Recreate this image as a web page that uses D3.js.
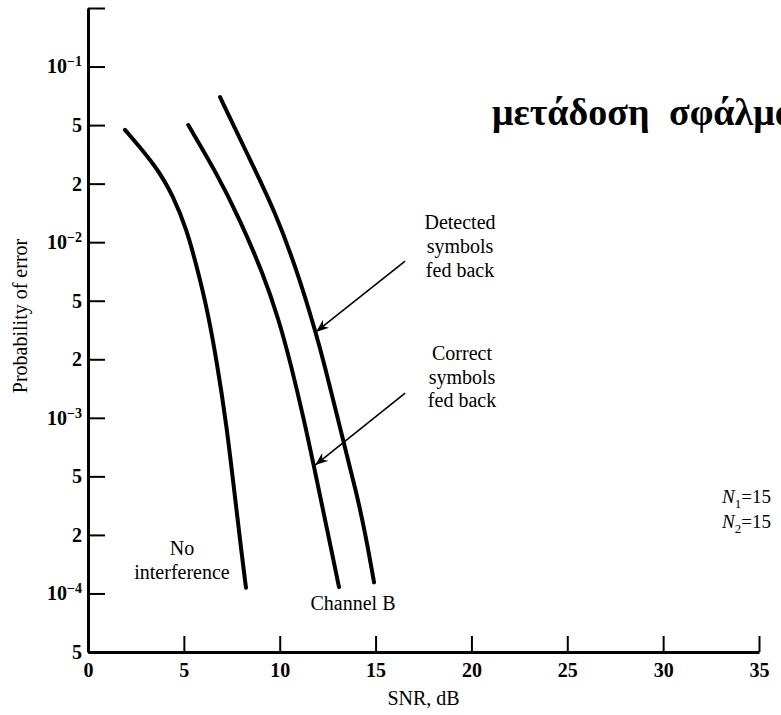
<!DOCTYPE html>
<html>
<head>
<meta charset="utf-8">
<script src="https://cdn.jsdelivr.net/npm/d3@7"></script>
<style>
  body { margin: 0; background: #fff; }
  svg { display: block; font-family: "Liberation Serif", "Times New Roman", serif; }
</style>
</head>
<body>
<svg id="chart" width="781" height="715"></svg>
<script>
// SNR in dB, probability of error
const noIntSnr = [1.93, 3.58, 4.45, 5.15, 5.67, 6.19, 6.71, 7.24, 7.64, 8.03, 8.24];
const noIntPe = [4.64e-2, 2.61e-2, 1.72e-2, 1.16e-2, 7.5e-3, 4.56e-3, 1.98e-3, 9.0e-4, 3.86e-4, 1.56e-4, 1.07e-4];

const correctSnr = [5.23, 6.71, 7.93, 9.13, 9.96, 10.59, 11.27, 11.79, 12.26, 12.73, 13.09];
const correctPe = [5.0e-2, 2.36e-2, 1.30e-2, 6.9e-3, 3.7e-3, 1.87e-3, 9.75e-4, 5.6e-4, 2.95e-4, 1.61e-4, 1.08e-4];

const detectedSnr = [6.89, 8.29, 9.81, 11.06, 11.84, 12.28, 13.30, 14.01, 14.50, 14.92];
const detectedPe = [6.96e-2, 3.21e-2, 1.41e-2, 6.4e-3, 3.16e-3, 1.98e-3, 7.7e-4, 3.84e-4, 1.96e-4, 1.14e-4];

const xTicks = [0, 5, 10, 15, 20, 25, 30, 35];
const yTickVals = [5e-5, 1e-4, 2e-4, 5e-4, 1e-3, 2e-3, 5e-3, 1e-2, 2e-2, 5e-2, 1e-1, 2e-1];
const yTickMant = ['5', '10', '2', '5', '10', '2', '5', '10', '2', '5', '10', ''];
const yTickExp = ['', '\u22124', '', '', '\u22123', '', '', '\u22122', '', '', '\u22121', ''];

// arrows: [snr start, pe start, snr tip, pe tip]
const arrowDetected = [16.54, 8.0e-3, 11.89, 3.07e-3];
const arrowCorrect = [16.54, 1.34e-3, 11.85, 5.72e-4];

const plotLeft = 88, plotRight = 759, plotBottom = 652, plotTop = 8;
const svg = d3.select('#chart');

const x = d3.scaleLinear().domain([0, 35]).range([plotLeft, plotRight]);
const yStep = (plotBottom - plotTop) / (yTickVals.length - 1);
// tick marks are evenly spaced on the original paper, so map log values piecewise
const yLog = d3.scaleLinear()
  .domain(yTickVals.map(Math.log10))
  .range(yTickVals.map((d, i) => plotBottom - i * yStep));
const y = v => yLog(Math.log10(v));

svg.append('defs').append('marker')
  .attr('id', 'head')
  .attr('markerUnits', 'userSpaceOnUse')
  .attr('markerWidth', 14).attr('markerHeight', 10)
  .attr('refX', 13).attr('refY', 5)
  .attr('orient', 'auto')
  .append('path')
  .attr('d', 'M0,0 L13,5 L0,10 L4,5 Z')
  .attr('fill', '#000');

// y axis
const yAxis = svg.append('g')
  .attr('transform', `translate(${plotLeft},0)`)
  .call(d3.axisLeft(yLog)
    .tickValues(yTickVals.map(Math.log10))
    .tickSizeInner(-17)
    .tickSizeOuter(0)
    .tickPadding(6)
    .tickFormat(''));
yAxis.selectAll('.tick text').each(function(d, i) {
  const t = d3.select(this);
  t.append('tspan').text(yTickMant[i]);
  if (yTickExp[i]) t.append('tspan').attr('font-size', 14).attr('dy', '-0.5em').text(yTickExp[i]);
});

// x axis
const xAxis = svg.append('g')
  .attr('transform', `translate(0,${plotBottom})`)
  .call(d3.axisBottom(x)
    .tickValues(xTicks)
    .tickSizeInner(-16)
    .tickSizeOuter(0)
    .tickPadding(11));

[yAxis, xAxis].forEach(g => {
  g.attr('font-family', null).attr('font-size', null);
  g.select('.domain').attr('stroke', '#000').attr('stroke-width', 3);
  g.selectAll('.tick line').attr('stroke', '#000').attr('stroke-width', 2);
  g.selectAll('.tick text').attr('fill', '#000').attr('font-size', 20).attr('font-weight', 'bold');
});

svg.append('text')
  .attr('x', x(17.5)).attr('y', 705)
  .attr('text-anchor', 'middle')
  .attr('font-size', 20)
  .text('SNR, dB');

svg.append('text')
  .attr('transform', 'translate(20,316) rotate(-90)')
  .attr('text-anchor', 'middle')
  .attr('dominant-baseline', 'central')
  .attr('font-size', 20)
  .text('Probability of error');

// curves
const line = d3.line()
  .x(d => x(d[0]))
  .y(d => y(d[1]))
  .curve(d3.curveBasis);

[[noIntSnr, noIntPe], [correctSnr, correctPe], [detectedSnr, detectedPe]].forEach(([s, p]) => {
  svg.append('path')
    .datum(s.map((v, i) => [v, p[i]]))
    .attr('d', line)
    .attr('fill', 'none')
    .attr('stroke', '#000')
    .attr('stroke-width', 4)
    .attr('stroke-linecap', 'round');
});

// arrows
[arrowDetected, arrowCorrect].forEach(a => {
  svg.append('line')
    .attr('x1', x(a[0])).attr('y1', y(a[1]))
    .attr('x2', x(a[2])).attr('y2', y(a[3]))
    .attr('stroke', '#000')
    .attr('stroke-width', 1.6)
    .attr('marker-end', 'url(#head)');
});

// labels
function block(cx, ys, lines) {
  lines.forEach((l, i) => {
    svg.append('text')
      .attr('x', cx).attr('y', ys[i])
      .attr('text-anchor', 'middle')
      .attr('font-size', 20)
      .text(l);
  });
}
block(460, [229, 253, 277], ['Detected', 'symbols', 'fed back']);
block(462, [360, 384, 407], ['Correct', 'symbols', 'fed back']);
block(182, [555, 579], ['No', 'interference']);
block(353, [610], ['Channel B']);

[['1', 503], ['2', 528]].forEach(([sub, yy]) => {
  const t = svg.append('text').attr('x', 722).attr('y', yy).attr('font-size', 19);
  t.append('tspan').attr('font-style', 'italic').text('N');
  t.append('tspan').attr('font-size', 13).attr('dy', 5).text(sub);
  t.append('tspan').attr('dy', -5).text('=15');
});

svg.append('text')
  .attr('x', 492).attr('y', 125)
  .attr('font-size', 38)
  .attr('font-weight', 'bold')
  .attr('word-spacing', 10)
  .text('μετάδοση σφάλματος');
</script>
</body>
</html>
